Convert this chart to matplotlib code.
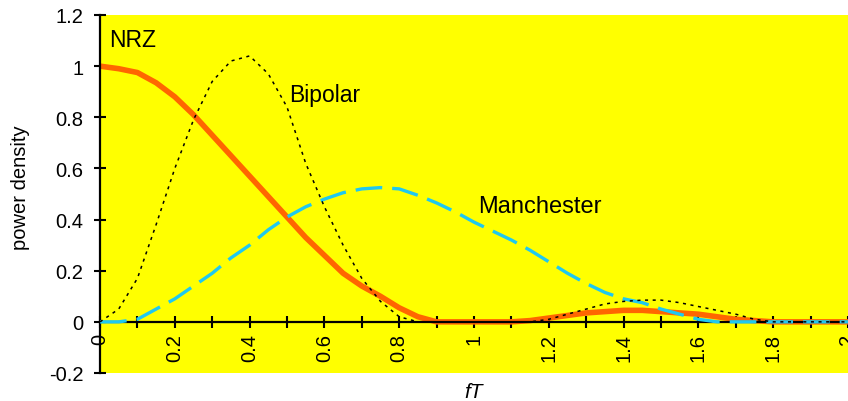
"""Power spectral density of NRZ, bipolar and Manchester line codes."""

import matplotlib
matplotlib.use("Agg")
import matplotlib.pyplot as plt
from matplotlib.ticker import MultipleLocator

plt.rcParams["font.family"] = ["Liberation Sans", "DejaVu Sans"]

fT = [0.0, 0.05, 0.1, 0.15, 0.2, 0.25, 0.3, 0.35, 0.4, 0.45, 0.5, 0.55, 0.6,
      0.65, 0.7, 0.75, 0.8, 0.85, 0.9, 0.95, 1.0, 1.05, 1.1, 1.15, 1.2, 1.25,
      1.3, 1.35, 1.4, 1.45, 1.5, 1.55, 1.6, 1.65, 1.7, 1.75, 1.8, 1.85, 1.9,
      1.95, 2.0]

nrz = [1.0, 0.99, 0.975, 0.935, 0.88, 0.81, 0.73, 0.65, 0.57, 0.49, 0.41, 0.33,
       0.26, 0.19, 0.14, 0.10, 0.055, 0.02, 0.0, 0.0, 0.0, 0.0, 0.0, 0.005,
       0.015, 0.025, 0.035, 0.04, 0.045, 0.045, 0.04, 0.035, 0.03, 0.02, 0.01,
       0.005, 0.0, 0.0, 0.0, 0.0, 0.0]

bipolar = [0.0, 0.05, 0.17, 0.38, 0.60, 0.79, 0.94, 1.02, 1.04, 0.97, 0.84,
           0.62, 0.45, 0.30, 0.17, 0.08, 0.02, 0.0, 0.0, 0.0, 0.0, 0.0, 0.0,
           0.0, 0.01, 0.03, 0.05, 0.07, 0.08, 0.085, 0.085, 0.075, 0.06, 0.045,
           0.03, 0.01, 0.0, 0.0, 0.0, 0.0, 0.0]

manchester = [0.0, 0.0, 0.01, 0.05, 0.09, 0.14, 0.19, 0.25, 0.30, 0.36, 0.41,
              0.45, 0.48, 0.505, 0.52, 0.525, 0.52, 0.495, 0.465, 0.43, 0.39,
              0.355, 0.32, 0.28, 0.235, 0.19, 0.15, 0.115, 0.09, 0.075, 0.05,
              0.03, 0.01, 0.0, 0.0, 0.0, 0.0, 0.0, 0.0, 0.0, 0.0]

x_ticks = [0, 0.2, 0.4, 0.6, 0.8, 1, 1.2, 1.4, 1.6, 1.8, 2]
x_labels = ["0", "0.2", "0.4", "0.6", "0.8", "1", "1.2", "1.4", "1.6", "1.8", "2"]
y_ticks = [-0.2, 0, 0.2, 0.4, 0.6, 0.8, 1, 1.2]
y_labels = ["-0.2", "0", "0.2", "0.4", "0.6", "0.8", "1", "1.2"]

fig = plt.figure(figsize=(8.48, 4.02), dpi=100)
ax = fig.add_axes([100 / 848, 28 / 402, 748 / 848, 358 / 402])
ax.set_facecolor("#FFFF00")

ax.plot(fT, nrz, color="#FF6600", lw=4.0, solid_joinstyle="round", zorder=2)
ax.plot(fT, manchester, color="#1FC8F0", lw=2.4, dashes=(8, 3), zorder=3)
ax.plot(fT, bipolar, color="black", lw=1.1, dashes=(2, 3), zorder=4)

ax.set_xlim(0, 2)
ax.set_ylim(-0.2, 1.2)
ax.spines["top"].set_visible(False)
ax.spines["right"].set_visible(False)
ax.spines["bottom"].set_position(("data", 0))
ax.spines["left"].set_linewidth(1.6)
ax.spines["bottom"].set_linewidth(1.6)

ax.set_xticks(x_ticks)
ax.set_xticklabels(x_labels, rotation=90, fontsize=14.5)
ax.xaxis.set_minor_locator(MultipleLocator(0.1))
ax.set_yticks(y_ticks)
ax.set_yticklabels(y_labels, fontsize=14.5)
ax.tick_params(axis="both", which="both", direction="inout", length=8,
               width=1.5)
ax.tick_params(axis="x", pad=4)
ax.tick_params(axis="y", pad=8)

ax.set_ylabel("power density", fontsize=14.5)
ax.yaxis.set_label_coords(-0.093, 0.52)
ax.set_xlabel("fT", fontsize=15, style="italic")
ax.xaxis.set_label_coords(0.5, -0.025)

ax.text(0.025, 1.105, "NRZ", fontsize=16.5, va="center", ha="left")
ax.text(0.505, 0.89, "Bipolar", fontsize=16.5, va="center", ha="left")
ax.text(1.01, 0.455, "Manchester", fontsize=17, va="center", ha="left")

fig.savefig("out.png", dpi=100)
